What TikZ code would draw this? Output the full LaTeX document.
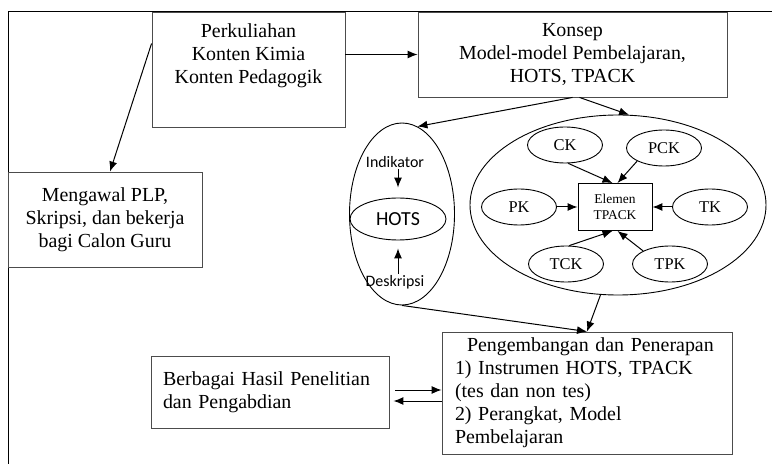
\documentclass[tikz,border=0pt]{standalone}
\usepackage{fontspec}
\setmainfont{Liberation Serif}
\setsansfont{Carlito}
\usetikzlibrary{arrows.meta,positioning,shapes.geometric}
\tikzset{
 box/.style={draw=black!70, line width=0.9bp, inner sep=0pt, font=\fontsize{20}{23}\selectfont},
 ring/.style={ellipse, draw, line width=0.9bp, inner sep=0pt},
 small/.style={ring, minimum width=75bp, minimum height=36bp, font=\fontsize{16.5}{19}\selectfont},
 side/.style={inner sep=1bp, font=\sffamily\fontsize{16}{19}\selectfont},
 arrow/.style={-{Latex[length=10bp,width=8bp]}, line width=1bp}
}

\begin{document}
\begin{tikzpicture}[x=1bp,y=-1bp]
\useasboundingbox (0,0) rectangle (772,464);
\draw[line width=1bp] (8,464) -- (8,12) -- (772,12);
% boxes
\node[box, minimum width=193bp, minimum height=115bp] (perk) at (248.5,69.5) {};
\node[box, draw=none, below=12bp of perk.north, align=center] (perktxt) {Perkuliahan\\Konten Kimia\\Konten Pedagogik};
\node[box, minimum width=309bp, minimum height=85bp, align=center] (konsep) at (572.5,54.5) {Konsep\\Model-model Pembelajaran,\\HOTS, TPACK};
\node[box, minimum width=194bp, minimum height=95bp, align=center] (mengawal) at (105,219.5) {Mengawal PLP,\\Skripsi, dan bekerja\\bagi Calon Guru};
\node[box, minimum width=238bp, minimum height=72bp, text width=214bp, align=left] (berbagai) at (270,392) {Berbagai Hasil Penelitian\\dan Pengabdian};
\node[box, minimum width=290bp, minimum height=122bp, text width=264bp, align=left] (peng) at (587,393) {\hspace*{12bp}Pengembangan dan Penerapan\\1) Instrumen HOTS, TPACK\\(tes dan non tes)\\2) Perangkat, Model\\Pembelajaran};
% HOTS
\node[ring, minimum width=105bp, minimum height=182bp] (hotsring) at (402,214) {};
\node[ring, minimum width=96bp, minimum height=42bp, font=\sffamily\fontsize{20}{24}\selectfont] (hots) at (398,219) {HOTS};
\node[side] (indik) at (395,162) {Indikator};
\node[side] (deskr) at (395,282) {Deskripsi};
\draw[arrow, shorten >=10bp] (indik.south -| hots.north) -- (hots.north);
\draw[arrow, shorten >=8bp] (deskr.north -| hots.south) -- (hots.south);
% TPACK
\node[ring, minimum width=296bp, minimum height=180bp] (tpack) at (618,205) {};
\node[box, draw=black, minimum width=74bp, minimum height=47bp, align=center, font=\fontsize{13.5}{16}\selectfont] (elem) at (615,207) {Elemen\\TPACK};
\foreach \n/\x/\y/\t in {ck/565/145/CK, pck/664/148/PCK, pk/519/207/PK, tk/710/207/TK, tck/566/264/TCK, tpk/670/264/TPK}
 {\node[small] (\n) at (\x,\y) {\t};}
\draw[arrow] (ck.-80) -- (elem.96);
\draw[arrow] (pck.south west) -- (elem.84);
\draw[arrow] (pk) -- (elem);
\draw[arrow] (tk) -- (elem);
\draw[arrow] (tck.80) -- (elem.-96);
\draw[arrow] (tpk.north west) -- (elem.-84);
% connectors
\draw[arrow] (perk.east |- konsep.west) -- (konsep.west);
\draw[arrow] (perk.165) -- (mengawal.84);
\draw[arrow] (konsep.south) -- (hotsring.80);
\draw[arrow] ([xshift=7bp]konsep.south) -- (tpack.83);
\draw[arrow] (hotsring.south) -- (peng.north);
\draw[arrow] (tpack.259) -- (peng.north);
\draw[arrow, shorten <=6bp] ([yshift=2bp]berbagai.east) -- ([yshift=2bp]berbagai.east -| peng.west);
\draw[arrow, shorten >=4bp] ([yshift=-9bp]berbagai.east -| peng.west) -- ([yshift=-9bp]berbagai.east);
\end{tikzpicture}
\end{document}
